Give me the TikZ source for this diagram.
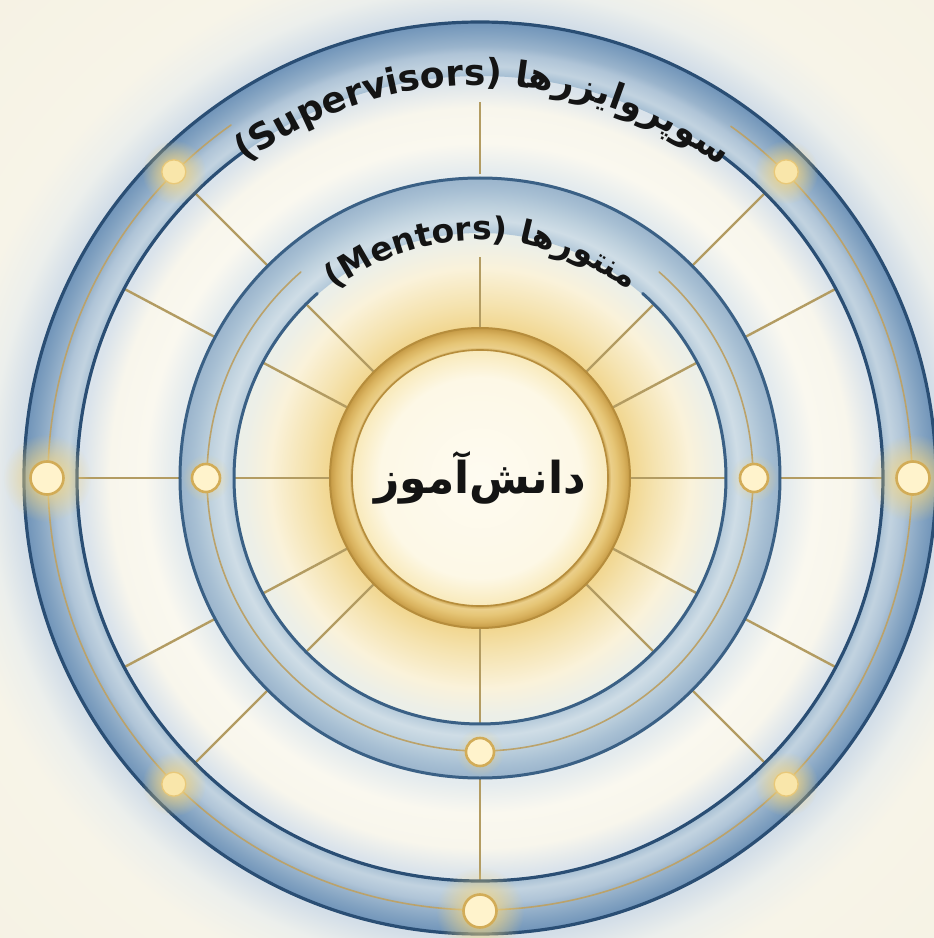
\documentclass[tikz,border=0pt]{standalone}
\usepackage{fontspec}
\setmainfont{DejaVu Sans}
\TeXXeTstate=1
\usetikzlibrary{fadings}
\font\latA="DejaVu Sans/B" at 36pt
\font\arA="DejaVu Sans/B:script=arab" at 36pt
\font\latB="DejaVu Sans/B" at 33pt
\font\arB="DejaVu Sans/B:script=arab" at 33pt
\font\arC="DejaVu Sans/B:script=arab" at 44pt

% background colours
\definecolor{bg0}{HTML}{FEFBF1}
\definecolor{bg1}{HTML}{FDF8E6}
\definecolor{bg2}{HTML}{F9EBBF}
\definecolor{bg3}{HTML}{F1D68F}
\definecolor{bg4}{HTML}{F5E3B0}
\definecolor{bg5}{HTML}{FAF2DA}
\definecolor{bg6}{HTML}{ECEFE8}
\definecolor{bg7}{HTML}{E4EBEE}
\definecolor{bg8}{HTML}{FAF8EF}
\definecolor{bg9}{HTML}{F8F6EC}
\definecolor{bg10}{HTML}{DAE3EB}
\definecolor{bg11}{HTML}{D3DEE8}
\definecolor{bg12}{HTML}{ECEFEC}
\definecolor{bg13}{HTML}{F7F4E8}
\definecolor{bg14}{HTML}{F6F2E4}
% outer band
\definecolor{ob0}{HTML}{A5BED3}
\definecolor{ob1}{HTML}{C2D3E0}
\definecolor{ob2}{HTML}{AFC4D7}
\definecolor{ob3}{HTML}{9AB4CC}
\definecolor{ob4}{HTML}{82A2C1}
\definecolor{ob5}{HTML}{7094B9}
% middle band
\definecolor{mb0}{HTML}{B2C8D9}
\definecolor{mb1}{HTML}{CFDDE6}
\definecolor{mb2}{HTML}{BDD0DD}
\definecolor{mb3}{HTML}{A7BFD3}
\definecolor{mb4}{HTML}{9AB4CC}
% gold band
\definecolor{gb0}{HTML}{C9A24F}
\definecolor{gb1}{HTML}{EBCF8A}
\definecolor{gb2}{HTML}{E6C677}
\definecolor{gb3}{HTML}{D9B25E}
\definecolor{gb4}{HTML}{C59A45}
% lines etc
\definecolor{navy}{HTML}{2A4E74}
\definecolor{midnavy}{HTML}{3A6085}
\definecolor{goldline}{HTML}{BBA26A}
\definecolor{spokecol}{HTML}{B39C62}
\definecolor{goldedge}{HTML}{B68D3C}
\definecolor{glowcol}{HTML}{F6D67E}
\definecolor{dotfill}{HTML}{FFF3CC}
\definecolor{dotring}{HTML}{D2AC57}
\definecolor{sdotfill}{HTML}{F9E6AA}
\definecolor{sdotring}{HTML}{E8C879}
\definecolor{txt}{HTML}{141414}

\pgfdeclareradialshading{bgshade}{\pgfpoint{0bp}{0bp}}{%
color(0bp)=(bg0); color(3.68bp)=(bg1); color(4.60bp)=(bg2); color(5.51bp)=(bg3);
color(6.43bp)=(bg4); color(7.72bp)=(bg5); color(8.75bp)=(bg6); color(11.21bp)=(bg7);
color(12.32bp)=(bg8); color(13.60bp)=(bg9); color(14.63bp)=(bg10); color(16.91bp)=(bg11);
color(18.01bp)=(bg12); color(19.49bp)=(bg13); color(25bp)=(bg14); color(50bp)=(bg14)}
\pgfdeclareradialshading{outerband}{\pgfpoint{0bp}{0bp}}{%
color(0bp)=(ob0); color(22.04bp)=(ob0); color(22.59bp)=(ob1); color(23.30bp)=(ob2);
color(23.68bp)=(ob3); color(24.40bp)=(ob4); color(25bp)=(ob5); color(50bp)=(ob5)}
\pgfdeclareradialshading{midband}{\pgfpoint{0bp}{0bp}}{%
color(0bp)=(mb0); color(20.42bp)=(mb0); color(21.5bp)=(mb1); color(22.67bp)=(mb2);
color(24bp)=(mb3); color(25bp)=(mb4); color(50bp)=(mb4)}
\pgfdeclareradialshading{goldband}{\pgfpoint{0bp}{0bp}}{%
color(0bp)=(gb0); color(21.33bp)=(gb0); color(21.83bp)=(gb1); color(22.83bp)=(gb2);
color(24bp)=(gb3); color(25bp)=(gb4); color(50bp)=(gb4)}

\tikzfading[name=glowfade, inner color=transparent!0, outer color=transparent!100]

\newlength\pcw
\newlength\arctot
% #1 name prefix, #2 baseline radius, #3 centre angle, #4 font, #5 pieces (left to right)
\newcommand\arctext[5]{%
  \global\arctot=0pt
  \foreach \pc in {#5}{\settowidth{\pcw}{#4\pc}\global\advance\arctot by \pcw}%
  \pgfmathsetmacro\arcspan{\arctot/(#2)*180/pi}%
  \pgfmathsetmacro\arcstart{#3+\arcspan/2}%
  \global\let\curang\arcstart
  \foreach \pc [count=\ci] in {#5}{%
    \settowidth{\pcw}{#4\pc}%
    \pgfmathsetmacro\hw{\pcw/(#2)*90/pi}%
    \pgfmathsetmacro\ca{\curang-\hw}%
    \pgfmathsetmacro\na{\curang-2*\hw}%
    \node[arcchar, rotate=\ca-90] (#1\ci) at (\ca:#2) {#4\pc};
    \global\let\curang\na
  }%
}
\newcommand\lpar{(}
\newcommand\rpar{)}

\tikzset{
  arcchar/.style={inner sep=0pt, outer sep=0pt, anchor=base, text=txt},
  spoke/.style={draw=spokecol, line width=2.4pt},
  darkline/.style={draw=navy, line width=3.2pt, line cap=round},
  middark/.style={draw=midnavy, line width=3pt, line cap=round},
  goldthin/.style={draw=goldline, line width=1.6pt, line cap=round},
  bigdot/.style={circle, minimum size=33pt, inner sep=0pt, fill=dotfill, draw=dotring, line width=2.6pt},
  smalldot/.style={circle, minimum size=24pt, inner sep=0pt, fill=sdotfill, draw=sdotring, line width=1.3pt},
  middot/.style={circle, minimum size=28pt, inner sep=0pt, fill=dotfill, draw=dotring, line width=2.6pt},
  glow/.style={fill=glowcol, path fading=glowfade},
}

\begin{document}
\begin{tikzpicture}[x=1pt, y=1pt]
\useasboundingbox (-480,-460) rectangle (454,478);
\begin{scope}
\clip (-480,-460) rectangle (454,478);
\shade[shading=bgshade] (0,0) circle (680);
\end{scope}

% spokes
\foreach \a in {0,28,45,135,152,180,208,225,315,332,270} {
  \coordinate (ia\a) at (\a:149);
  \coordinate (ib\a) at (\a:246);
  \draw[spoke] (ia\a) -- (ib\a);
  \coordinate (oa\a) at (\a:299);
  \coordinate (ob\a) at (\a:403);
  \draw[spoke] (oa\a) -- (ob\a);
}
\coordinate (ia90) at (90:149);
\coordinate (ib90) at (90:221);
\draw[spoke] (ia90) -- (ib90);
\coordinate (oa90) at (90:304);
\coordinate (ob90) at (90:376);
\draw[spoke] (oa90) -- (ob90);

% gold centre ring
\shade[shading=goldband] (0:150) arc[start angle=0, end angle=360, radius=150]
  -- (0:128) arc[start angle=360, end angle=0, radius=128] -- cycle;
\draw[goldedge, line width=2pt] (0,0) circle (150);
\draw[goldedge, line width=1.6pt] (0,0) circle (128);

% middle ring
\shade[shading=midband] (0:300) arc[start angle=0, end angle=360, radius=300]
  -- (0:245) arc[start angle=360, end angle=0, radius=245] -- cycle;
\draw[goldthin] (131:273) arc[start angle=131, end angle=409, radius=273];
\draw[middark] (0,0) circle (300);
\draw[middark] (131.4:246) arc[start angle=131.4, end angle=408.6, radius=246];

% outer ring
\shade[shading=outerband] (0:456) arc[start angle=0, end angle=360, radius=456]
  -- (0:402) arc[start angle=360, end angle=0, radius=402] -- cycle;
\draw[goldthin] (125.2:432) arc[start angle=125.2, end angle=414.5, radius=432];
\draw[darkline] (0,0) circle (456);
\draw[darkline] (125.6:403) arc[start angle=125.6, end angle=413.8, radius=403];

% glows
\foreach \a in {0,180,270} { \fill[glow] (\a:433) circle (44); }
\foreach \a in {45,135,225,315} { \fill[glow] (\a:433) circle (32); }
\foreach \a in {0,180,270} { \fill[glow, opacity=0.6] (\a:274) circle (24); }

% dots
\node[bigdot] (od0) at (0:433) {};
\node[bigdot] (od180) at (180:433) {};
\node[bigdot] (od270) at (270:433) {};
\node[smalldot] (od45) at (45:433) {};
\node[smalldot] (od135) at (135:433) {};
\node[smalldot] (od225) at (225:433) {};
\node[smalldot] (od315) at (315:433) {};
\node[middot] (md0) at (0:274) {};
\node[middot] (md180) at (180:274) {};
\node[middot] (md270) at (270:274) {};

% texts
\arctext{sup}{393}{89.5}{\latA}{\lpar,S,u,p,e,r,v,i,s,o,r,s,\rpar,\space,{\arA\beginR ها\endR},{\arA\beginR ر\endR},{\arA\beginR یز\endR},{\arA\beginR ا\endR},{\arA\beginR و\endR},{\arA\beginR پر\endR},{\arA\beginR سو\endR}}
\arctext{men}{238}{89.5}{\latB}{\lpar,M,e,n,t,o,r,s,\rpar,\space,{\arB\beginR ها\endR},{\arB\beginR ر\endR},{\arB\beginR منتو\endR}}

\node[text=txt, inner sep=0pt] (student) at (0,0) {\arC\beginR دانش‌آموز\endR};
\end{tikzpicture}
\end{document}
